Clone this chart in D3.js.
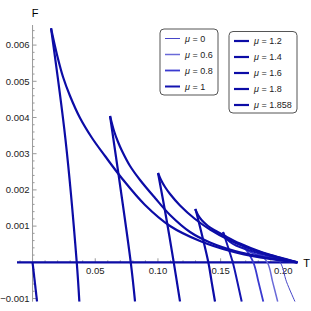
<!DOCTYPE html>
<html>
<head>
<meta charset="utf-8">
<script src="https://cdn.jsdelivr.net/npm/d3@7"></script>
<style>
  body { margin: 0; background: #fff; }
  text { font-family: "Liberation Sans", Arial, sans-serif; }
</style>
</head>
<body>
<script>
// mu values, one curve each
var mus = [0, 0.6, 0.8, 1, 1.2, 1.4, 1.6, 1.8, 1.858];

// steep branch (cusp -> down through F=0)
var steepT = [
  [0.19099, 0.19737, 0.20255, 0.20933],
  [0.17903, 0.18724, 0.19147, 0.19553],
  [0.16786, 0.17608, 0.18014, 0.18405],
  [0.15191, 0.15965, 0.16332, 0.16683],
  [0.12998, 0.14019, 0.14282, 0.14553],
  [0.10008, 0.10646, 0.11260, 0.11762],
  [0.06180, 0.07831, 0.08174],
  [0.01475, 0.02632, 0.03525, 0.03732],
  [0.0000, 0.0036]
];
var steepF = [
  [0.000133, 0, -0.000539, -0.001088],
  [0.000285, 0, -0.000539, -0.001088],
  [0.000478, 0, -0.000539, -0.001088],
  [0.000837, 0, -0.000539, -0.001088],
  [0.001472, 0, -0.000539, -0.001088],
  [0.002467, 0.00126, 0, -0.001088],
  [0.004041, 0, -0.001088],
  [0.006464, 0.003378, 0, -0.001088],
  [0, -0.001088]
];

// curved branch (cusp -> right towards F=0)
var curvT = [
  [0.19099, 0.19498, 0.20056, 0.2109],
  [0.17903, 0.18142, 0.18461, 0.19099, 0.20136, 0.2109],
  [0.16786, 0.17026, 0.17344, 0.17903, 0.18939, 0.20136, 0.2109],
  [0.15191, 0.15431, 0.15750, 0.16228, 0.16946, 0.18142, 0.19737, 0.2109],
  [0.12959, 0.13198, 0.13517, 0.13995, 0.14554, 0.15351, 0.16547, 0.18142, 0.19737, 0.2109],
  [0.10008, 0.10247, 0.10566, 0.10965, 0.11762, 0.12959, 0.14155, 0.15750, 0.17743, 0.19338, 0.2109],
  [0.06180, 0.06499, 0.06818, 0.07137, 0.07775, 0.08573, 0.09769, 0.10965, 0.12560, 0.14155, 0.16148, 0.18142, 0.2109],
  [0.01475, 0.01954, 0.02432, 0.02990, 0.03788, 0.04745, 0.05781, 0.07137, 0.08971, 0.10965, 0.13357, 0.15750, 0.18142, 0.2109],
  []
];
var curvF = [
  [0.000133, 0.000069, 0.000036, 0],
  [0.000285, 0.000202, 0.000146, 0.000091, 0.000041, 0],
  [0.000478, 0.000354, 0.000285, 0.000215, 0.000133, 0.000064, 0],
  [0.000837, 0.000671, 0.000561, 0.000464, 0.000367, 0.000243, 0.000105, 0],
  [0.001472, 0.001307, 0.001155, 0.001003, 0.000878, 0.000727, 0.000519, 0.000298, 0.000133, 0],
  [0.002467, 0.002273, 0.002080, 0.001887, 0.001569, 0.001196, 0.000906, 0.000602, 0.000326, 0.000160, 0],
  [0.004041, 0.003627, 0.003323, 0.003075, 0.002660, 0.002273, 0.001776, 0.001307, 0.000837, 0.000547, 0.000312, 0.000160, 0],
  [0.006464, 0.005727, 0.005119, 0.004594, 0.003986, 0.003434, 0.002936, 0.002315, 0.001583, 0.001003, 0.000588, 0.000312, 0.000133, 0],
  []
];

var xTicks = [0.05, 0.10, 0.15, 0.20];
var yTicks = [-0.001, 0.001, 0.002, 0.003, 0.004, 0.005, 0.006];

var colors = ['#4646c8', '#6a6ad8', '#3a3ad0', '#1414b0', '#0c0ca6', '#0c0ca6', '#0c0ca6', '#0c0ca6', '#0c0ca6'];
var widths = [1, 1.5, 1.8, 2, 2.2, 2.2, 2.2, 2.2, 2.2];

var svg = d3.select('body').append('svg').attr('width', 311).attr('height', 311);

var x = d3.scaleLinear().domain([-0.0124, 0.2117]).range([17, 298]);
var y = d3.scaleLinear().domain([-0.001088, 0.006555]).range([301.7, 25]);

svg.append('clipPath').attr('id', 'clip')
   .append('rect').attr('x', 17).attr('y', 25).attr('width', 281).attr('height', 276.7);

// axes
var ax = svg.append('g').attr('stroke', '#999').attr('stroke-width', 1);
ax.append('line').attr('x1', x(0)).attr('x2', x(0)).attr('y1', 25).attr('y2', 301.7);
ax.append('line').attr('x1', 17).attr('x2', 298).attr('y1', y(0)).attr('y2', y(0));
d3.range(-0.001, 0.00656, 0.0002).forEach(function(v) {
  var major = Math.abs(v * 1000 - Math.round(v * 1000)) < 1e-6;
  ax.append('line').attr('x1', x(0)).attr('x2', x(0) + (major ? 4 : 2))
    .attr('y1', y(v)).attr('y2', y(v));
});
d3.range(-0.01, 0.211, 0.01).forEach(function(v) {
  var major = Math.abs(v * 20 - Math.round(v * 20)) < 1e-6;
  ax.append('line').attr('x1', x(v)).attr('x2', x(v))
    .attr('y1', y(0)).attr('y2', y(0) - (major ? 4 : 2));
});

svg.selectAll('text.ylab').data(yTicks).enter().append('text')
   .attr('class', 'ylab')
   .attr('x', x(0) - 3).attr('y', d => y(d) + 3.3)
   .attr('text-anchor', 'end').attr('font-size', 9.5).attr('fill', '#222')
   .text(d => d3.format('.3f')(d));

svg.selectAll('text.xlab').data(xTicks).enter().append('text')
   .attr('class', 'xlab')
   .attr('x', d => x(d)).attr('y', y(0) + 12)
   .attr('text-anchor', 'middle').attr('font-size', 9.5).attr('fill', '#222')
   .text(d => d3.format('.2f')(d));

svg.append('text').attr('x', 35).attr('y', 17).attr('text-anchor', 'middle')
   .attr('font-size', 11).text('F');
svg.append('text').attr('x', 306.5).attr('y', 266.5).attr('text-anchor', 'middle')
   .attr('font-size', 11).text('T');

// curves
var line = d3.line().x(d => x(d[0])).y(d => y(d[1])).curve(d3.curveCatmullRom.alpha(0.5));
var g = svg.append('g').attr('clip-path', 'url(#clip)').attr('fill', 'none');

g.append('line').attr('x1', 17).attr('x2', 298).attr('y1', y(0)).attr('y2', y(0))
 .attr('stroke', '#0c0ca6').attr('stroke-width', 2.2);

mus.forEach(function(m, i) {
  var s = d3.zip(steepT[i], steepF[i]);
  g.append('path').attr('d', line(s)).attr('stroke', colors[i]).attr('stroke-width', widths[i]);
  if (curvT[i].length) {
    var c = d3.zip(curvT[i], curvF[i]);
    g.append('path').attr('d', line(c)).attr('stroke', colors[i]).attr('stroke-width', widths[i]);
  }
});

// legends
function legend(x0, y0, w, h, idx) {
  var lg = svg.append('g');
  lg.append('rect').attr('x', x0).attr('y', y0).attr('width', w).attr('height', h)
    .attr('rx', 4).attr('fill', '#fff').attr('stroke', '#555').attr('stroke-width', 1);
  idx.forEach(function(i, k) {
    var yy = y0 + 9.5 + k * 16;
    lg.append('line').attr('x1', x0 + 5).attr('x2', x0 + 20).attr('y1', yy).attr('y2', yy)
      .attr('stroke', colors[i]).attr('stroke-width', widths[i]);
    var t = lg.append('text').attr('x', x0 + 25).attr('y', yy + 3.2)
      .attr('font-size', 9).attr('fill', '#222');
    t.append('tspan').attr('font-style', 'italic').text('μ');
    t.append('tspan').text(' = ' + mus[i]);
  });
}
legend(160, 29, 58, 66, [0, 1, 2, 3]);
legend(229, 31.5, 68, 81.5, [4, 5, 6, 7, 8]);
</script>
</body>
</html>
